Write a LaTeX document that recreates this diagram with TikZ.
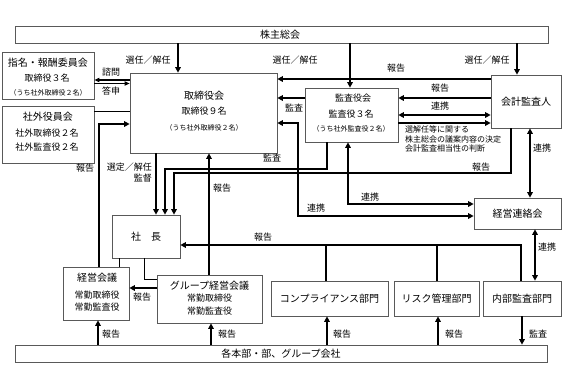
\documentclass[tikz,border=0pt]{standalone}
\usepackage{fontspec}
\setmainfont{Noto Sans CJK JP}
\usetikzlibrary{arrows.meta,fit}
\newcommand\fz[1]{\fontsize{#1}{#1}\selectfont}
\begin{document}
\begin{tikzpicture}[x=1pt,y=-1pt,
  box/.style={draw=black!65, line width=0.7pt, inner sep=0pt},
  arr/.style={line width=1.4pt, -{Triangle[length=5.5pt,width=5.5pt]}},
  darr/.style={line width=1.4pt, {Triangle[length=5.5pt,width=5.5pt]}-{Triangle[length=5.5pt,width=5.5pt]}},
  sarr/.style={line width=1.1pt, -{Triangle[length=5pt,width=4.2pt]}},
  ln/.style={line width=1.4pt},
  plainln/.style={line width=0.8pt},
  lbl/.style={font=\fz{9}, inner sep=0pt},
  ta/.style={font=\fz{10}, inner sep=0pt},
  tb/.style={font=\fz{9}, inner sep=0pt},
  tc/.style={font=\fz{7}, inner sep=0pt},
  td/.style={font=\fz{8}, inner sep=0pt, anchor=west}
]
\useasboundingbox (0,0) rectangle (578,389);

% boxes
\node[box, fit={(15,26)(548,43)}] (soukai) {};
\node[box, fit={(2,52)(94,99)}] (shimei) {};
\node[box, fit={(2,106)(94,163)}] (shagai) {};
\node[box, fit={(130,73)(277,153)}] (tori) {};
\node[box, fit={(305,88)(398,142)}] (kansa) {};
\node[box, fit={(491,75)(561,128)}] (kaikei) {};
\node[box, fit={(474,198)(561,229)}] (renraku) {};
\node[box, fit={(112,215)(180,258)}] (shacho) {};
\node[box, fit={(63,267)(129,320)}] (keiei) {};
\node[box, fit={(157,275)(262,323)}] (group) {};
\node[box, fit={(271,281)(388,316)}] (comp) {};
\node[box, fit={(394,281)(479,316)}] (risk) {};
\node[box, fit={(483,281)(561,316)}] (naibu) {};
\node[box, fit={(15,345)(547,362)}] (honbu) {};

% box texts
\node[ta] (soukaiT) at (280,35) {株主総会};
\node[ta] (shimeiT1) at (48,62.5) {指名・報酬委員会};
\node[tb] (shimeiT2) at (47,78.5) {取締役３名};
\node[tc] (shimeiT3) at (48,92.5) {（うち社外取締役２名）};
\node[ta] (shagaiT1) at (48,116.5) {社外役員会};
\node[tb] (shagaiT2) at (47,133) {社外取締役２名};
\node[tb] (shagaiT3) at (47,147.5) {社外監査役２名};
\node[ta] (toriT1) at (204,96) {取締役会};
\node[tb] (toriT2) at (204,111.5) {取締役９名};
\node[tc] (toriT3) at (204,127.5) {（うち社外取締役２名）};
\node[tb] (kansaT1) at (353,98) {監査役会};
\node[tb] (kansaT2) at (351,114) {監査役３名};
\node[tc] (kansaT3) at (351,129) {（うち社外監査役２名）};
\node[ta] (kaikeiT) at (526,101.5) {会計監査人};
\node[ta] (renrakuT) at (517.5,213.5) {経営連絡会};
\node[ta] (shachoT) at (146,236.5) {社　長};
\node[ta] (keieiT1) at (97,277.5) {経営会議};
\node[tb] (keieiT2) at (97,295.5) {常勤取締役};
\node[tb] (keieiT3) at (97,307.5) {常勤監査役};
\node[ta] (groupT1) at (209.5,286) {グループ経営会議};
\node[tb] (groupT2) at (209.5,298.5) {常勤取締役};
\node[tb] (groupT3) at (209.5,311) {常勤監査役};
\node[ta] (compT) at (329.5,298.5) {コンプライアンス部門};
\node[ta] (riskT) at (436.5,298.5) {リスク管理部門};
\node[ta] (naibuT) at (522,298.5) {内部監査部門};
\node[ta] (honbuT) at (281,353.5) {各本部・部、グループ会社};

% shareholders meeting
\draw[arr] (178,0 |- soukai.south) -- (178,0 |- tori.north);
\draw[arr] (350,0 |- soukai.south) -- (350,0 |- kansa.north);
\draw[arr] (517,0 |- soukai.south) -- (517,0 |- kaikei.north);
\node[lbl] (l1) at (148,60) {選任／解任};
\node[lbl] (l2) at (295,60) {選任／解任};
\node[lbl] (l3) at (487,60) {選任／解任};

% nomination committee
\draw[sarr] (tori.west |- 0,80) -- (shimei.east |- 0,80);
\draw[sarr] (shimei.east |- 0,83.5) -- (tori.west |- 0,83.5);
\node[lbl] (l4) at (111,72) {諮問};
\node[lbl] (l5) at (111,91.5) {答申};

% outside officers
\draw[plainln] (shagai.east |- 0,111) -- (tori.west |- 0,111);

% management meeting -> board
\draw[arr] (99,0 |- keiei.north) -- (99,124) -- (tori.west |- 0,124);
\node[lbl] (l6) at (85,168) {報告};

% board -> president
\draw[arr] (156,0 |- tori.south) -- (156,0 |- shacho.north);
\node[lbl, anchor=east] (l7) at (152,167) {選定／解任};
\node[lbl, anchor=east] (l8) at (152,178.5) {監督};

% auditors -> president
\draw[arr] (327,0 |- kansa.south) -- (327,169) -- (165,169) -- (165,0 |- shacho.north);
\node[lbl] (l9) at (272,158) {監査};

% accounting auditor -> president
\draw[arr] (511,0 |- kaikei.south) -- (511,173) -- (174,173) -- (174,0 |- shacho.north);
\node[lbl] (l10) at (481,167) {報告};

% group meeting -> board
\draw[arr] (209,0 |- group.north) -- (209,0 |- tori.south);
\node[lbl] (l11) at (222,188) {報告};

% accounting auditor -> board
\draw[arr] (kaikei.west |- 0,79) -- (tori.east |- 0,79);
\node[lbl] (l12) at (396,68.5) {報告};

% auditors -> board
\draw[arr] (kansa.west |- 0,98) -- (tori.east |- 0,98);
\node[lbl] (l13) at (294,107.5) {監査};

% liaison lines
\draw[darr] (tori.east |- 0,123) -- (298,123) -- (298,216) -- (renraku.west |- 0,216);
\node[lbl] (l14) at (316,208) {連携};
\draw[darr] (348,0 |- kansa.south) -- (348,204) -- (renraku.west |- 0,204);
\node[lbl] (l15) at (370,197.5) {連携};

% auditors <-> accounting auditor
\draw[arr] (kaikei.west |- 0,98) -- (kansa.east |- 0,98);
\node[lbl] (l16) at (440,88) {報告};
\draw[darr] (kansa.east |- 0,115) -- (kaikei.west |- 0,115);
\node[lbl] (l17) at (440,106.5) {連携};
\draw[arr] (kansa.east |- 0,123) -- (kaikei.west |- 0,123);
\node[td] (n1) at (405,129.5) {選解任等に関する};
\node[td] (n2) at (405,139) {株主総会の議案内容の決定};
\node[td] (n3) at (405,148.5) {会計監査相当性の判断};

% accounting auditor <-> liaison council
\draw[darr] (530,0 |- kaikei.south) -- (530,0 |- renraku.north);
\node[lbl] (l18) at (542,148) {連携};
\draw[darr] (535,0 |- renraku.south) -- (535,0 |- naibu.north);
\node[lbl] (l19) at (547,247) {連携};

% departments -> president
\draw[arr] (521,0 |- naibu.north) -- (521,245) -- (shacho.east |- 0,245);
\draw[ln] (326,0 |- comp.north) -- (326,245);
\draw[ln] (437,0 |- risk.north) -- (437,245);
\node[lbl] (l20) at (263,237.5) {報告};

% president -> meetings
\draw[plainln] (119,0 |- shacho.south) -- (119,0 |- keiei.north);
\draw[plainln] (144,0 |- shacho.south) -- (144,279) -- (group.west |- 0,279);

% group -> management meeting
\draw[arr] (group.west |- 0,288) -- (keiei.east |- 0,288);
\node[lbl] (l21) at (142,297.5) {報告};

% bottom
\draw[arr] (98,0 |- honbu.north) -- (98,0 |- keiei.south);
\draw[arr] (211,0 |- honbu.north) -- (211,0 |- group.south);
\draw[arr] (327,0 |- honbu.north) -- (327,0 |- comp.south);
\draw[arr] (438,0 |- honbu.north) -- (438,0 |- risk.south);
\draw[arr] (522,0 |- naibu.south) -- (522,0 |- honbu.north);
\node[lbl] (l22) at (111,334) {報告};
\node[lbl] (l23) at (227,334) {報告};
\node[lbl] (l24) at (342,334) {報告};
\node[lbl] (l25) at (454,334) {報告};
\node[lbl] (l26) at (538,334) {監査};
\end{tikzpicture}
\end{document}
